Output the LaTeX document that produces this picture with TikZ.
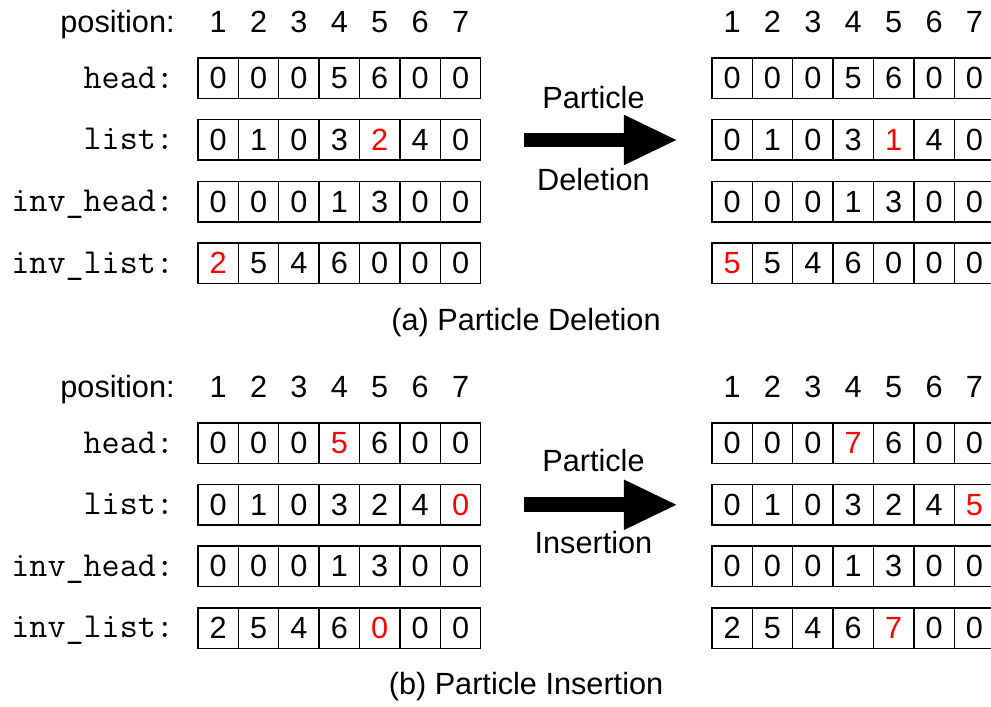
\documentclass[tikz,border=0pt]{standalone}
\usepackage{fontspec}
\setmainfont{Liberation Sans}
\usepackage{xcolor}
\usetikzlibrary{positioning, arrows.meta}

\newcommand{\hot}[1]{\textcolor{red}{#1}}
% one row of seven cells: name, left x, centre y, values
\newcommand{\cellrow}[4]{%
  \foreach \v [count=\i] in {#4}
    \node[cell] (#1-\i) at ({#2+\i-0.5},#3) {\v};}

\tikzset{
  cell/.style={draw, line width=1pt, minimum width=1cm, minimum height=1cm,
    inner sep=0pt, font=\fontsize{21.6}{24}\selectfont},
  rowname/.style={anchor=east, inner sep=0pt, text height=15pt, text depth=1pt,
    font=\ttfamily\fontsize{24.7}{27}\selectfont},
  posnum/.style={anchor=base, inner sep=0pt, font=\fontsize{21.6}{24}\selectfont},
  plain/.style={inner sep=0pt, font=\fontsize{21.6}{24}\selectfont},
  bigarrow/.style={line width=0.37cm, -{Triangle[length=1.34cm, width=1.14cm]}}
}

\begin{document}
\begin{tikzpicture}
  \useasboundingbox (0,0) rectangle (24.53,-17.5);

  % (a) deletion
  \node[posnum, anchor=base east] (dpos) at (4.33,-0.8) {position:};
  \cellrow{dpre-head}{4.9}{-1.94}{0,0,0,5,6,0,0}
  \cellrow{dpre-list}{4.9}{-3.465}{0,1,0,3,\hot{2},4,0}
  \cellrow{dpre-ihead}{4.9}{-4.99}{0,0,0,1,3,0,0}
  \cellrow{dpre-ilist}{4.9}{-6.515}{\hot{2},5,4,6,0,0,0}
  \cellrow{dpost-head}{17.62}{-1.94}{0,0,0,5,6,0,0}
  \cellrow{dpost-list}{17.62}{-3.465}{0,1,0,3,\hot{1},4,0}
  \cellrow{dpost-ihead}{17.62}{-4.99}{0,0,0,1,3,0,0}
  \cellrow{dpost-ilist}{17.62}{-6.515}{\hot{5},5,4,6,0,0,0}
  \foreach \i in {1,...,7} {
    \node[posnum] (dpre-pos-\i) at ({4.4+\i},-0.8) {\i};
    \node[posnum] (dpost-pos-\i) at ({17.12+\i},-0.8) {\i};
  }
  \node[rowname, left=0.57cm of dpre-head-1] (dname-head) {head:};
  \node[rowname, left=0.57cm of dpre-list-1] (dname-list) {list:};
  \node[rowname, left=0.57cm of dpre-ihead-1] (dname-ihead) {inv\_head:};
  \node[rowname, left=0.57cm of dpre-ilist-1] (dname-ilist) {inv\_list:};
  \draw[bigarrow] ([xshift=1.06cm]dpre-list-7.east) -- ([xshift=-0.82cm]dpost-list-1.west)
    node[plain, pos=0.45, yshift=1.04cm] (dtop) {Particle}
    node[plain, pos=0.45, yshift=-0.97cm] (dbot) {Deletion};
  \node[plain] (dcap) at (13.02,-7.99) {(a) Particle Deletion};

  % (b) insertion
  \begin{scope}[yshift=-9.03cm]
  \node[posnum, anchor=base east] (ipos) at (4.33,-0.8) {position:};
  \cellrow{ipre-head}{4.9}{-1.94}{0,0,0,\hot{5},6,0,0}
  \cellrow{ipre-list}{4.9}{-3.465}{0,1,0,3,2,4,\hot{0}}
  \cellrow{ipre-ihead}{4.9}{-4.99}{0,0,0,1,3,0,0}
  \cellrow{ipre-ilist}{4.9}{-6.515}{2,5,4,6,\hot{0},0,0}
  \cellrow{ipost-head}{17.62}{-1.94}{0,0,0,\hot{7},6,0,0}
  \cellrow{ipost-list}{17.62}{-3.465}{0,1,0,3,2,4,\hot{5}}
  \cellrow{ipost-ihead}{17.62}{-4.99}{0,0,0,1,3,0,0}
  \cellrow{ipost-ilist}{17.62}{-6.515}{2,5,4,6,\hot{7},0,0}
  \foreach \i in {1,...,7} {
    \node[posnum] (ipre-pos-\i) at ({4.4+\i},-0.8) {\i};
    \node[posnum] (ipost-pos-\i) at ({17.12+\i},-0.8) {\i};
  }
  \node[rowname, left=0.57cm of ipre-head-1] (iname-head) {head:};
  \node[rowname, left=0.57cm of ipre-list-1] (iname-list) {list:};
  \node[rowname, left=0.57cm of ipre-ihead-1] (iname-ihead) {inv\_head:};
  \node[rowname, left=0.57cm of ipre-ilist-1] (iname-ilist) {inv\_list:};
  \draw[bigarrow] ([xshift=1.06cm]ipre-list-7.east) -- ([xshift=-0.82cm]ipost-list-1.west)
    node[plain, pos=0.45, yshift=1.1cm] (itop) {Particle}
    node[plain, pos=0.45, yshift=-0.93cm] (ibot) {Insertion};
  \node[plain] (icap) at (13.02,-7.96) {(b) Particle Insertion};
  \end{scope}
\end{tikzpicture}
\end{document}
